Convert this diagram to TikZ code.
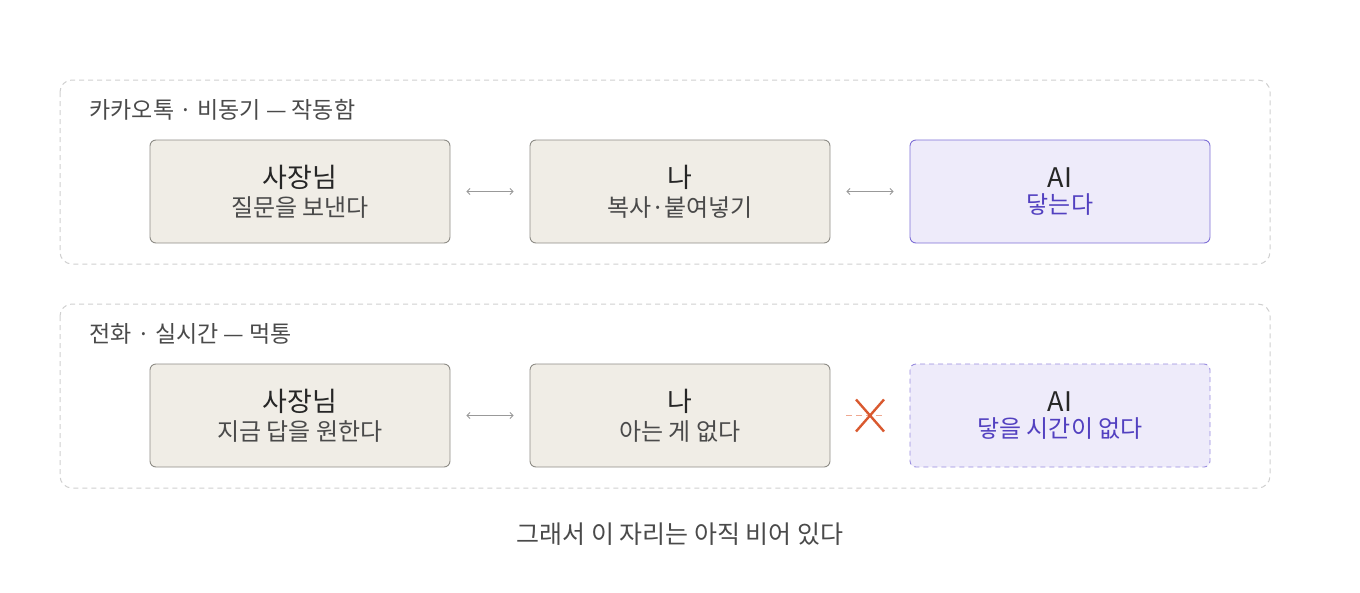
\documentclass[tikz,border=0pt]{standalone}
\usepackage{fontspec}
\setmainfont{Noto Sans CJK KR}
\usetikzlibrary{arrows.meta}
\definecolor{boxfill}{HTML}{F0EDE6}
\definecolor{boxdraw}{HTML}{8E8C86}
\definecolor{aifill}{HTML}{EEEBFA}
\definecolor{aidraw}{HTML}{7E6FD6}
\definecolor{aitext}{HTML}{5240C0}
\definecolor{grp}{HTML}{D0D0D0}
\definecolor{txt}{HTML}{4A4A4A}
\definecolor{xcol}{HTML}{D9592F}
\definecolor{xlight}{HTML}{EFA890}
\newcommand{\ttlf}{\fontsize{27}{30}\selectfont}
\newcommand{\subf}{\fontsize{24}{30}\selectfont}
\begin{document}
\begin{tikzpicture}[x=1pt,y=-1pt,
 grp/.style={draw=grp,dash pattern=on 5pt off 4pt,rounded corners=12pt,line width=1pt},
 box/.style={draw=boxdraw,fill=boxfill,rounded corners=6pt,line width=0.9pt,minimum width=300pt,minimum height=103pt,inner sep=0pt,align=center,text=black!85},
 ai/.style={box,draw=aidraw,fill=aifill},
 aidash/.style={ai,dash pattern=on 5pt off 4pt,draw=aidraw!80},
 head/.style={anchor=west,font=\fontsize{23}{26}\selectfont,text=txt},
 link/.style={draw=gray!80,line width=0.8pt,{Straight Barb[length=3pt]}-{Straight Barb[length=3pt]}}]
\useasboundingbox (0,0) rectangle (1360,592);
\draw[grp] (60,80) rectangle (1270,264);
\draw[grp] (60,304) rectangle (1270,488);
\node[head] (h1) at (86,110) {카카오톡 · 비동기 — 작동함};
\node[head] (h2) at (86,334) {전화 · 실시간 — 먹통};
\node[box] (a1) at (300,191.5) {{\ttlf 사장님}\\[6pt]{\subf\color{txt}질문을 보낸다}};
\node[box] (b1) at (680,191.5) {{\ttlf 나}\\[6pt]{\subf\color{txt}복사·붙여넣기}};
\node[ai] (c1) at (1060,191.5) {{\ttlf AI}\\[6pt]{\subf\color{aitext}닿는다}};
\node[box] (a2) at (300,415.5) {{\ttlf 사장님}\\[6pt]{\subf\color{txt}지금 답을 원한다}};
\node[box] (b2) at (680,415.5) {{\ttlf 나}\\[6pt]{\subf\color{txt}아는 게 없다}};
\node[aidash] (c2) at (1060,415.5) {{\ttlf AI}\\[6pt]{\subf\color{aitext}닿을 시간이 없다}};
\draw[link] ([xshift=16pt]a1.east) -- ([xshift=-16pt]b1.west);
\draw[link] ([xshift=16pt]b1.east) -- ([xshift=-16pt]c1.west);
\draw[link] ([xshift=16pt]a2.east) -- ([xshift=-16pt]b2.west);
\coordinate (xl) at ([xshift=16pt]b2.east);
\coordinate (xr) at ([xshift=-24pt]c2.west);
\coordinate (xc) at (870,415.5);
\draw[xlight,line width=1pt,dash pattern=on 6pt off 4pt] (xl) -- (xr);
\draw[xcol,line width=2.4pt] ([shift={(-14,-16)}]xc) -- ([shift={(14,16)}]xc) ([shift={(14,-16)}]xc) -- ([shift={(-14,16)}]xc);
\node[font=\fontsize{25}{28}\selectfont,text=txt] (foot) at (680,534) {그래서 이 자리는 아직 비어 있다};
\end{tikzpicture}
\end{document}
